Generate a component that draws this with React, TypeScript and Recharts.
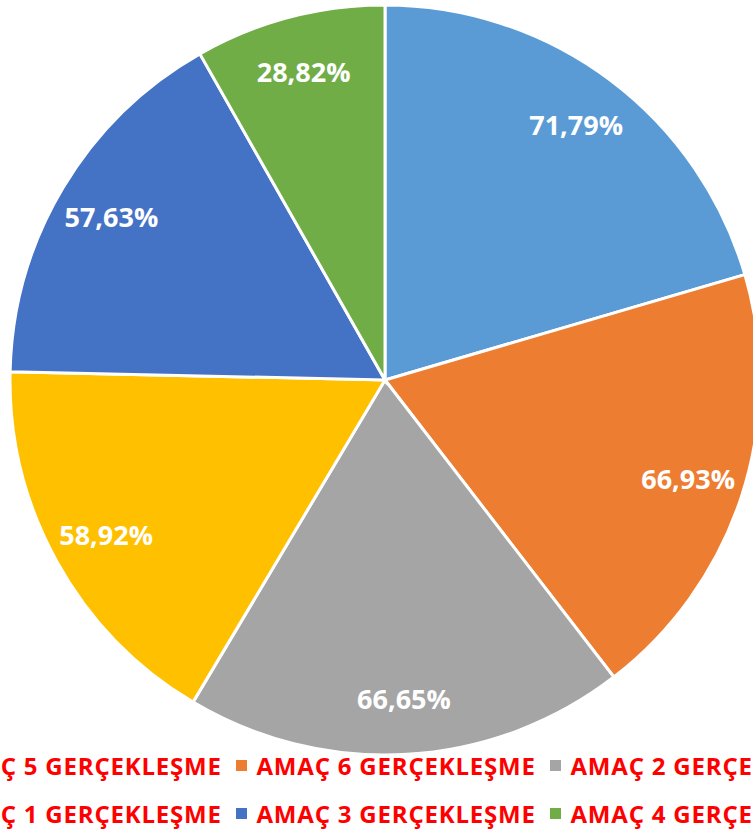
import { PieChart, Pie, Cell, Legend } from "recharts";

const categories = [
  "AMAÇ 5 GERÇEKLEŞME",
  "AMAÇ 6 GERÇEKLEŞME",
  "AMAÇ 2 GERÇEKLEŞME",
  "AMAÇ 1 GERÇEKLEŞME",
  "AMAÇ 3 GERÇEKLEŞME",
  "AMAÇ 4 GERÇEKLEŞME",
];
const values = [71.79, 66.93, 66.65, 58.92, 57.63, 28.82];
const colors = ["#5B9BD5", "#ED7D31", "#A5A5A5", "#FFC000", "#4472C4", "#70AD47"];

const data = categories.map((name, i) => ({ name, value: values[i], fill: colors[i] }));

const RADIAN = Math.PI / 180;
const FONT = "'Open Sans', Lato, sans-serif";

function SliceLabel(props: any) {
  const { cx, cy, midAngle, outerRadius, value } = props;
  const r = outerRadius * 0.85;
  const x = cx + r * Math.cos(-midAngle * RADIAN);
  const y = cy + r * Math.sin(-midAngle * RADIAN);
  return (
    <text
      x={x}
      y={y}
      fill="#fff"
      textAnchor="middle"
      dominantBaseline="central"
      fontFamily={FONT}
      fontWeight={700}
      fontSize={27}
    >
      {value.toFixed(2).replace(".", ",") + "%"}
    </text>
  );
}

function LegendRows() {
  const rows = [data.slice(0, 3), data.slice(3, 6)];
  return (
    <div style={{ width: 785, fontFamily: FONT }}>
      {rows.map((row, ri) => (
        <div
          key={ri}
          style={{
            display: "flex",
            justifyContent: "center",
            height: 48,
            alignItems: "center",
            whiteSpace: "nowrap",
          }}
        >
          {row.map((d) => (
            <div
              key={d.name}
              style={{ width: 314, flex: "0 0 314px", display: "flex", alignItems: "center" }}
            >
              <span
                style={{ width: 11, height: 11, background: d.fill, marginRight: 10, display: "inline-block" }}
              />
              <span style={{ color: "#FF0000", fontWeight: 700, fontSize: 24, letterSpacing: 0.8 }}>
                {d.name}
              </span>
            </div>
          ))}
        </div>
      ))}
    </div>
  );
}

export default function App() {
  return (
    <div
      style={{
        position: "fixed",
        top: 0,
        left: 0,
        width: 753,
        height: 830,
        overflow: "hidden",
        background: "#fff",
      }}
    >
      <PieChart width={785} height={830}>
        <Pie
          data={data}
          dataKey="value"
          nameKey="name"
          cx={380}
          cy={375}
          outerRadius={375}
          startAngle={90}
          endAngle={-270}
          stroke="#fff"
          strokeWidth={3}
          label={SliceLabel}
          labelLine={false}
          isAnimationActive={false}
        >
          {data.map((d, i) => (
            <Cell key={i} fill={d.fill} />
          ))}
        </Pie>
        <Legend
          content={() => <LegendRows />}
          wrapperStyle={{ top: 741, left: 0, width: 785 }}
        />
      </PieChart>
    </div>
  );
}
